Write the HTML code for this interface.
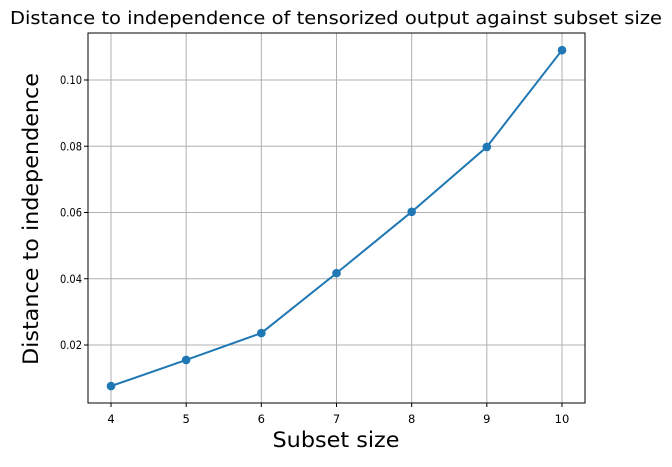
<!DOCTYPE html>
<html><head><meta charset="utf-8"><style>
body{margin:0;background:#fff;font-family:"Liberation Sans","DejaVu Sans",sans-serif;}
svg text{font-family:"DejaVu Sans","Liberation Sans",sans-serif;}
</style></head><body>
<svg id="chart" width="672" height="462"></svg>
<script>
const categories=[4,5,6,7,8,9,10];
const distances=[0.0076,0.0155,0.0236,0.0417,0.0602,0.0798,0.109];
const yTicks=[0.02,0.04,0.06,0.08,0.10];
const yTickLabels=["0.02","0.04","0.06","0.08","0.10"];
const L=88,R=585,T=33,B=403;
const x=v=>111+(v-4)*(562-111)/6;
const y=v=>345-(v-0.02)/0.02*66.25;
const svg=document.getElementById('chart');
const NS='http://www.w3.org/2000/svg';
function mk(t,a,txt){const e=document.createElementNS(NS,t);for(const k in a)e.setAttribute(k,a[k]);if(txt!=null)e.textContent=txt;svg.appendChild(e);return e;}
categories.forEach(c=>{
 const g=mk('line',{x1:x(c),x2:x(c),y1:T,y2:B,stroke:'#b0b0b0','stroke-width':1});
 
 
 const tk=mk('line',{x1:x(c),x2:x(c),y1:B,y2:B+4,stroke:'#000','stroke-width':1});
 
 
 const t=mk('text',{x:x(c),y:B+20,'text-anchor':'middle','font-size':11.5},String(c));
 
 
});
yTicks.forEach((v,i)=>{
 const g=mk('line',{x1:L,x2:R,y1:y(v),y2:y(v),stroke:'#b0b0b0','stroke-width':1});
 
 
 const tk=mk('line',{x1:L-4,x2:L,y1:y(v),y2:y(v),stroke:'#000','stroke-width':1});
 
 
 const t=mk('text',{x:L-6,y:y(v)+4,'text-anchor':'end','font-size':11.5,textLength:22,lengthAdjust:'spacingAndGlyphs'},yTickLabels[i]);
 
 
});
const fr=mk('rect',{x:L,y:T,width:R-L,height:B-T,fill:'none',stroke:'#000','stroke-width':1});


const ln=mk('polyline',{points:categories.map((c,i)=>x(c)+','+y(distances[i])).join(' '),fill:'none',stroke:'#1f77b4','stroke-width':2});


categories.forEach((c,i)=>{
 const p=mk('circle',{cx:x(c),cy:y(distances[i]),r:4.3,fill:'#1f77b4'});
 
 
});
const ti=mk('text',{x:336,y:24,'text-anchor':'middle','font-size':18,textLength:652,lengthAdjust:'spacingAndGlyphs'},'Distance to independence of tensorized output against subset size');


const xt=mk('text',{x:336,y:447,'text-anchor':'middle','font-size':21,textLength:127,lengthAdjust:'spacingAndGlyphs'},'Subset size');


const yt=mk('text',{x:0,y:0,'text-anchor':'middle','font-size':21,textLength:292,lengthAdjust:'spacingAndGlyphs',transform:'translate(38,219) rotate(-90)'},'Distance to independence');


</script>
</body></html>
